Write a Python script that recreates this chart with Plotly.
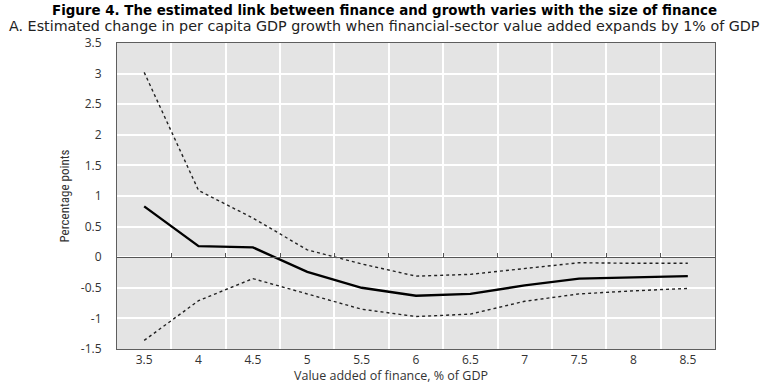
import plotly.graph_objects as go

# Size of the financial sector (value added, % of GDP)
finance_share = [3.5, 4, 4.5, 5, 5.5, 6, 6.5, 7, 7.5, 8, 8.5]
finance_labels = ["3.5", "4", "4.5", "5", "5.5", "6", "6.5", "7", "7.5", "8", "8.5"]

# Estimated change in per capita GDP growth (percentage points) and confidence band
estimate = [0.83, 0.18, 0.16, -0.24, -0.50, -0.63, -0.60, -0.46, -0.35, -0.33, -0.31]
upper_bound = [3.02, 1.09, 0.64, 0.12, -0.11, -0.31, -0.28, -0.19, -0.09, -0.10, -0.10]
lower_bound = [-1.36, -0.71, -0.35, -0.60, -0.85, -0.97, -0.93, -0.72, -0.60, -0.55, -0.51]

y_ticks = [3.5, 3, 2.5, 2, 1.5, 1, 0.5, 0, -0.5, -1, -1.5]
y_labels = ["3.5", "3", "2.5", "2", "1.5", "1", "0.5", "0", "-0.5", "-1", "-1.5"]

# Band edges between categories carry the vertical gridlines
band_edges = [v + 0.25 for v in finance_share[:-1]]

tick_font = dict(family="Open Sans, DejaVu Sans, sans-serif", size=12, color="#333333")

fig = go.Figure()
fig.add_trace(go.Scatter(x=finance_share, y=upper_bound, mode="lines",
                         line=dict(color="#222222", width=1.4, dash="dot"), showlegend=False))
fig.add_trace(go.Scatter(x=finance_share, y=lower_bound, mode="lines",
                         line=dict(color="#222222", width=1.4, dash="dot"), showlegend=False))
fig.add_trace(go.Scatter(x=finance_share, y=estimate, mode="lines",
                         line=dict(color="#000000", width=2.4), showlegend=False))

fig.update_layout(
    width=768, height=384,
    margin=dict(l=117, r=53, t=43, b=35),
    paper_bgcolor="white",
    plot_bgcolor="#e4e4e4",
    xaxis=dict(
        range=[3.25, 8.75], tickvals=finance_share, ticktext=finance_labels,
        showgrid=False, zeroline=False, ticks="", tickfont=tick_font,
        showline=True, linecolor="#5e5e5e", linewidth=1, mirror=True,
        minor=dict(tickvals=band_edges, showgrid=True, gridcolor="white", gridwidth=2),
    ),
    xaxis2=dict(
        overlaying="x", anchor="free", position=0.3, side="top",
        range=[3.25, 8.75], tickvals=band_edges, showticklabels=False,
        ticks="outside", ticklen=4, tickcolor="#555555", tickwidth=1,
        showline=True, linecolor="#555555", linewidth=1,
        showgrid=False, zeroline=False,
    ),
    yaxis=dict(
        range=[-1.5, 3.5], tickvals=y_ticks, ticktext=y_labels,
        showgrid=True, gridcolor="white", gridwidth=2, zeroline=False,
        tickfont=tick_font, ticks="", ticklen=0, ticklabelstandoff=12,
        showline=True, linecolor="#5e5e5e", linewidth=1, mirror=True,
        title=dict(text="Percentage points", standoff=8,
                   font=dict(family="Liberation Sans Narrow, Roboto Condensed, Roboto, sans-serif",
                             size=13, color="#333333")),
    ),
    annotations=[
        dict(text="<b>Figure 4. The estimated link between finance and growth varies with the size of finance</b>",
             xref="paper", yref="paper", x=0.5, y=1, xshift=-32, yshift=33,
             xanchor="center", yanchor="middle", showarrow=False,
             font=dict(family="DejaVu Sans, sans-serif", size=13.4, color="#000000")),
        dict(text="A. Estimated change in per capita GDP growth when financial-sector value added expands by 1% of GDP",
             xref="paper", yref="paper", x=0.5, y=1, xshift=-32, yshift=17,
             xanchor="center", yanchor="middle", showarrow=False,
             font=dict(family="DejaVu Sans, sans-serif", size=14.3, color="#222222")),
        dict(text="Value added of finance, % of GDP",
             xref="paper", yref="paper", x=0, y=0, xshift=274, yshift=-26,
             xanchor="center", yanchor="middle", showarrow=False,
             font=dict(family="Open Sans, DejaVu Sans, sans-serif", size=12.5, color="#333333")),
    ],
)

# Empty trace so the zero-line axis with its tick marks is drawn
fig.add_trace(go.Scatter(x=[None], y=[None], xaxis="x2", showlegend=False, hoverinfo="skip"))

fig.write_html("out.html")
